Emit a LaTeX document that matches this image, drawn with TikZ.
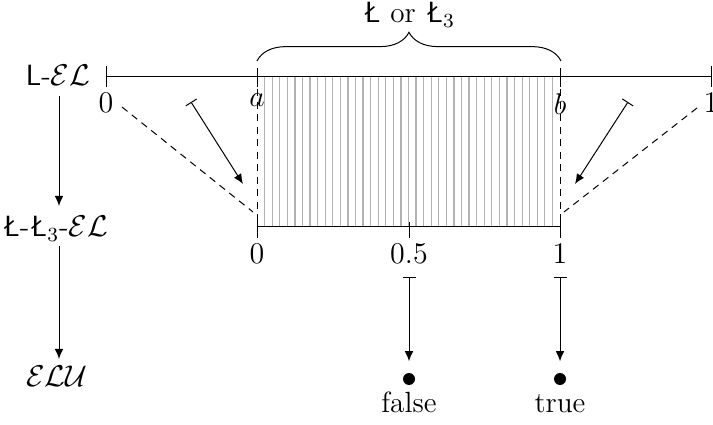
\documentclass[tikz,border=0pt]{standalone}
\usetikzlibrary{arrows.meta,decorations.pathreplacing}
\tikzset{
  arr/.style={-{Latex[length=4pt,width=3.4pt]}},
  mapsarr/.style={{Bar[width=5.2pt]}-{Latex[length=4pt,width=3.4pt]}},
  hatch/.style={gray!60,line width=0.5pt},
  dashline/.style={dashed,dash pattern=on 2.8pt off 2.2pt},
  dotnode/.style={circle,fill=black,inner sep=0pt,minimum size=4.8pt},
  lbl/.style={inner sep=2.4pt},
}
\begin{document}
\begin{tikzpicture}[x=0.4pt,y=-0.4pt,font=\fontsize{11.7}{14}\selectfont]
\useasboundingbox (0,0) rectangle (713,425);
% coordinates
\coordinate (t0) at (106,77);
\coordinate (ta) at (257,77);
\coordinate (tb) at (560,77);
\coordinate (t1) at (711,77);
\coordinate (b0) at (257,227);
\coordinate (bh) at (409,227);
\coordinate (b1) at (560,227);
% hatching
\foreach \i in {1,...,39}
  \draw[hatch] ({257+\i*303/40},77) -- ({257+\i*303/40},227);
% vertical dashed lines
\draw[dashline] (ta) -- (b0);
\draw[dashline] (tb) -- (b1);
% top line
\draw (t0) -- (t1);
\draw (106,66) -- (106,87);
\draw (711,66) -- (711,87);
\draw (257,68) -- (257,87);
\draw (560,68) -- (560,87);
% bottom line
\draw (b0) -- (b1);
\draw (257,218) -- (257,238);
\draw (560,218) -- (560,238);
\draw (409,222) -- (409,238);
% top labels
\node[below,lbl] (l0) at (106,87) {$0$};
\node[below,lbl] (la) at (257,87) {$a$};
\node[below,lbl] (lb) at (560,87) {$b$};
\node[below,lbl] (l1) at (711,87) {$1$};
% bottom labels
\node[below,lbl] (m0) at (257,238) {$0$};
\node[below,lbl] (mh) at (409,238) {$0.5$};
\node[below,lbl] (m1) at (560,238) {$1$};
% brace
\draw[decorate,decoration={brace,amplitude=11.5pt}] (257,61) -- (561,61);
\node[anchor=base] (top) at (409,23) {\textsf{\L} or \textsf{\L}$_3$};
% dashed diagonals
\coordinate (dl1) at (122,107);
\coordinate (dl2) at (253,212);
\coordinate (dr1) at (697,108);
\coordinate (dr2) at (564,212);
\draw[dashline] (dl1) -- (dl2);
\draw[dashline] (dr1) -- (dr2);
% diagonal maps-to arrows
\coordinate (ml1) at (191,102);
\coordinate (ml2) at (243,184);
\coordinate (mr1) at (628,102);
\coordinate (mr2) at (575,184);
\draw[mapsarr] (ml1) -- (ml2);
\draw[mapsarr] (mr1) -- (mr2);
% left column
\node[anchor=base] (LEL) at (58,86) {\textsf{L}-$\mathcal{EL}$};
\node[anchor=base] (LL3) at (55,237) {\textsf{\L}-\textsf{\L}$_3$-$\mathcal{EL}$};
\node[anchor=base] (ELU) at (57,386) {$\mathcal{ELU}$};
\coordinate (a1) at (59,96);
\coordinate (a2) at (59,206);
\coordinate (a3) at (59,246);
\coordinate (a4) at (59,359);
\draw[arr] (a1) -- (a2);
\draw[arr] (a3) -- (a4);
% truth values
\node[dotnode] (F) at (409,379) {};
\node[dotnode] (T) at (560,379) {};
\node[anchor=base] (fl) at (409,413) {false};
\node[anchor=base] (tr) at (560,413) {true};
\coordinate (s1) at (409,277);
\coordinate (s2) at (560,277);
\draw[mapsarr,shorten >=4.5pt] (s1) -- (F);
\draw[mapsarr,shorten >=4.5pt] (s2) -- (T);
\end{tikzpicture}
\end{document}
